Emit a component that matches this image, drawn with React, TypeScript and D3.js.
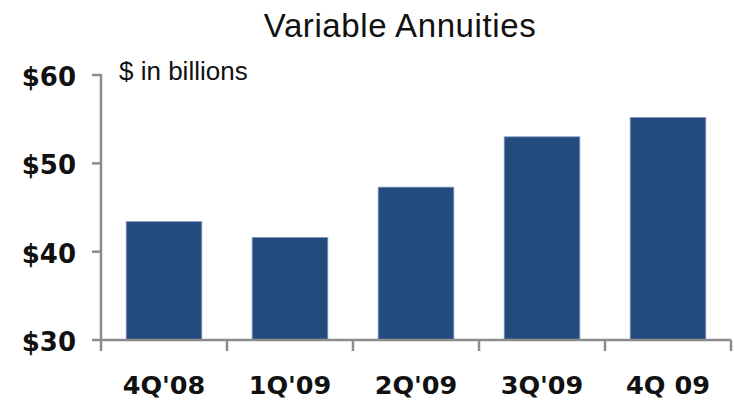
import React from 'react';
import * as d3 from 'd3';

const categories = ["4Q'08", "1Q'09", "2Q'09", "3Q'09", "4Q 09"];
const values = [43.4, 41.6, 47.3, 53.0, 55.2];
const yTicks = [30, 40, 50, 60];

const W = 734;
const H = 402;
const axisColor = '#8c8c8c';
const barColor = '#244b7d';

const App: React.FC = () => {
  const x = d3.scaleBand<string>()
    .domain(categories)
    .range([101, 731])
    .paddingInner(0.4)
    .paddingOuter(0.2);

  const y = d3.scaleLinear().domain([30, 60]).range([340, 75]);

  const step = x.step();
  const x0 = x.range()[0];
  const boundaries = d3.range(categories.length + 1).map(i => x0 + i * step);

  return (
    <svg
      width={W}
      height={H}
      viewBox={`0 0 ${W} ${H}`}
      style={{ position: 'fixed', left: 0, top: 0, background: '#fff' }}
    >
      {/* タイトル */}
      <text
        x={400}
        y={37}
        textAnchor="middle"
        fontFamily="'Liberation Sans', Arial, sans-serif"
        fontSize={33}
        letterSpacing={0.6}
        fill="#111"
      >
        Variable Annuities
      </text>

      <text
        x={119}
        y={80}
        fontFamily="'Liberation Sans', Arial, sans-serif"
        fontSize={26}
        fill="#111"
      >
        $ in billions
      </text>

      {/* 棒 */}
      {values.map((v, i) => (
        <rect
          key={categories[i]}
          x={x(categories[i])}
          y={y(v)}
          width={x.bandwidth()}
          height={y(30) - y(v)}
          fill={barColor}
          stroke="#7d97ba"
          strokeWidth={0.8}
        />
      ))}

      {/* Y軸 */}
      <line x1={101} x2={101} y1={y(60) - 1} y2={y(30)} stroke={axisColor} strokeWidth={2.5} />
      {yTicks.map(t => (
        <g key={t}>
          <line x1={92} x2={101} y1={y(t)} y2={y(t)} stroke={axisColor} strokeWidth={2.5} />
          <text
            x={76}
            y={y(t) + 2}
            textAnchor="end"
            dominantBaseline="central"
            fontFamily="'DejaVu Sans', sans-serif"
            fontWeight="bold"
            fontSize={26}
            fill="#111"
          >
            {`$${t}`}
          </text>
        </g>
      ))}

      {/* X軸 */}
      <line x1={100} x2={x.range()[1]} y1={y(30)} y2={y(30)} stroke={axisColor} strokeWidth={2.5} />
      {boundaries.map((bx, i) => (
        <line key={i} x1={bx} x2={bx} y1={y(30)} y2={y(30) + 11} stroke={axisColor} strokeWidth={2.5} />
      ))}
      {categories.map(c => (
        <text
          key={c}
          x={(x(c) ?? 0) + x.bandwidth() / 2}
          y={394}
          textAnchor="middle"
          fontFamily="'DejaVu Sans', sans-serif"
          fontWeight="bold"
          fontSize={25.5}
          fill="#111"
        >
          {c}
        </text>
      ))}
    </svg>
  );
};

export default App;
